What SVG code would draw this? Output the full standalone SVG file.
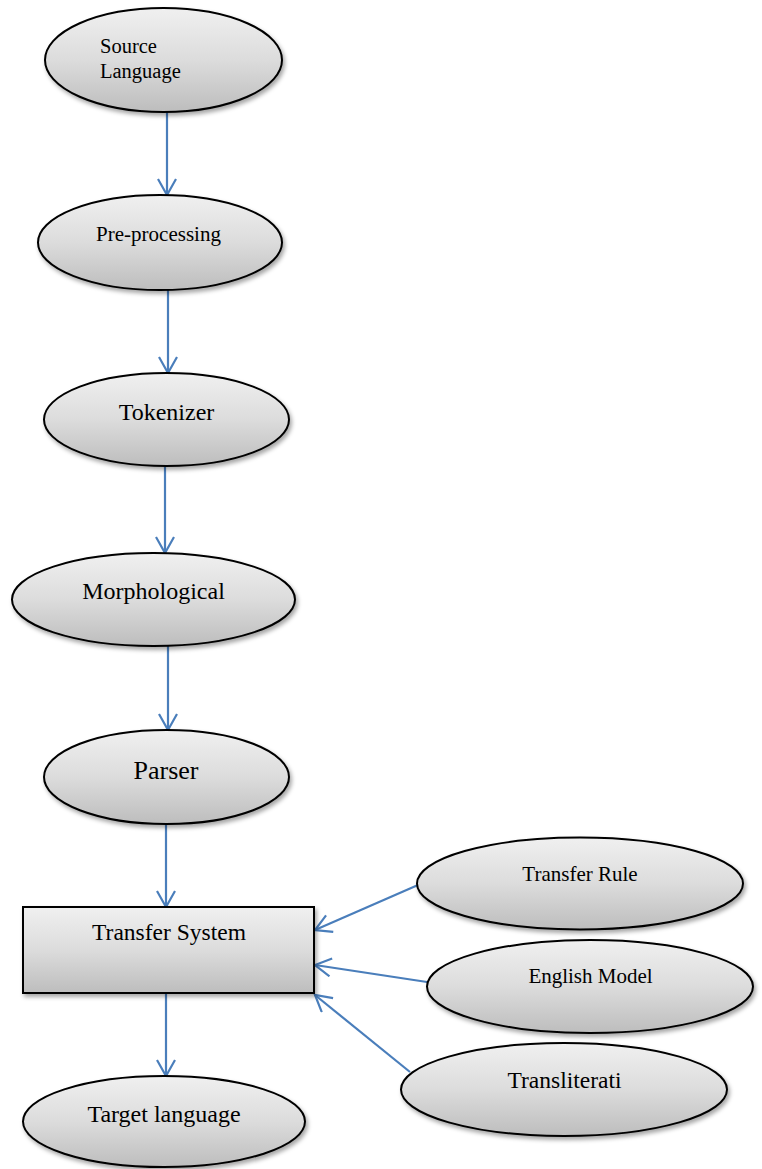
<svg xmlns="http://www.w3.org/2000/svg" width="762" height="1169" viewBox="0 0 762 1169">
  <defs>
    <linearGradient id="shade" x1="0" y1="0" x2="0" y2="1">
      <stop offset="0" stop-color="#f0f0f0"/>
      <stop offset="0.5" stop-color="#dcdcdc"/>
      <stop offset="1" stop-color="#bdbdbd"/>
    </linearGradient>
    <filter id="drop" x="-10%" y="-10%" width="125%" height="135%">
      <feDropShadow dx="2" dy="3" stdDeviation="2" flood-color="#000" flood-opacity="0.35"/>
    </filter>
    <marker id="open" viewBox="0 0 20 20" markerUnits="userSpaceOnUse" markerWidth="20" markerHeight="20" refX="17" refY="10" orient="auto">
      <path d="M1,1 L17,10 L1,19" fill="none" stroke="#4a7ebb" stroke-width="2.2"/>
    </marker>
  </defs>
  <style>
    .shape { fill: url(#shade); stroke: #000; stroke-width: 2; filter: url(#drop); }
    .label { font-family: "Liberation Serif", "Times New Roman", serif; fill: #000; }
    .edge { stroke: #4a7ebb; stroke-width: 2.2; fill: none; marker-end: url(#open); }
  </style>

  <g id="connectors">
    <line class="edge" x1="167" y1="112" x2="167" y2="195"/>
    <line class="edge" x1="168" y1="290" x2="168" y2="373"/>
    <line class="edge" x1="165" y1="466" x2="165" y2="553"/>
    <line class="edge" x1="168" y1="646" x2="168" y2="730"/>
    <line class="edge" x1="166" y1="824" x2="166" y2="907"/>
    <line class="edge" x1="166" y1="993" x2="166" y2="1076"/>
    <line class="edge" x1="418" y1="885" x2="315" y2="930"/>
    <line class="edge" x1="427" y1="982" x2="315" y2="965"/>
    <line class="edge" x1="410" y1="1072" x2="315" y2="995"/>
  </g>

  <g id="source-language">
    <ellipse class="shape" cx="163.5" cy="60" rx="118.5" ry="52"/>
    <text class="label" x="100" y="53" font-size="20.5">Source</text>
    <text class="label" x="100" y="78" font-size="20.5">Language</text>
  </g>

  <g id="pre-processing">
    <ellipse class="shape" cx="160" cy="242.5" rx="122" ry="47.5"/>
    <text class="label" x="158.5" y="241" font-size="21" text-anchor="middle">Pre-processing</text>
  </g>

  <g id="tokenizer">
    <ellipse class="shape" cx="166.5" cy="419.5" rx="122.5" ry="46.5"/>
    <text class="label" x="166.5" y="420" font-size="24" text-anchor="middle">Tokenizer</text>
  </g>

  <g id="morphological">
    <ellipse class="shape" cx="153.5" cy="599.5" rx="141.5" ry="46.5"/>
    <text class="label" x="153.5" y="599" font-size="24" text-anchor="middle">Morphological</text>
  </g>

  <g id="parser">
    <ellipse class="shape" cx="166.5" cy="777" rx="122.5" ry="47"/>
    <text class="label" x="166" y="779" font-size="26" text-anchor="middle">Parser</text>
  </g>

  <g id="transfer-system">
    <rect class="shape" x="23" y="907" width="291" height="86"/>
    <text class="label" x="169" y="940" font-size="23.5" text-anchor="middle">Transfer System</text>
  </g>

  <g id="transfer-rule">
    <ellipse class="shape" cx="580" cy="883.5" rx="163" ry="46"/>
    <text class="label" x="580" y="881" font-size="21" text-anchor="middle">Transfer Rule</text>
  </g>

  <g id="english-model">
    <ellipse class="shape" cx="590" cy="986.5" rx="163" ry="46.5"/>
    <text class="label" x="590.5" y="983" font-size="21" text-anchor="middle">English Model</text>
  </g>

  <g id="transliteration">
    <ellipse class="shape" cx="564" cy="1089.5" rx="163" ry="46.5"/>
    <text class="label" x="564.5" y="1088" font-size="23.5" text-anchor="middle">Transliterati</text>
  </g>

  <g id="target-language">
    <ellipse class="shape" cx="164" cy="1121.5" rx="141" ry="45.5"/>
    <text class="label" x="164" y="1122" font-size="24" text-anchor="middle">Target language</text>
  </g>
</svg>
